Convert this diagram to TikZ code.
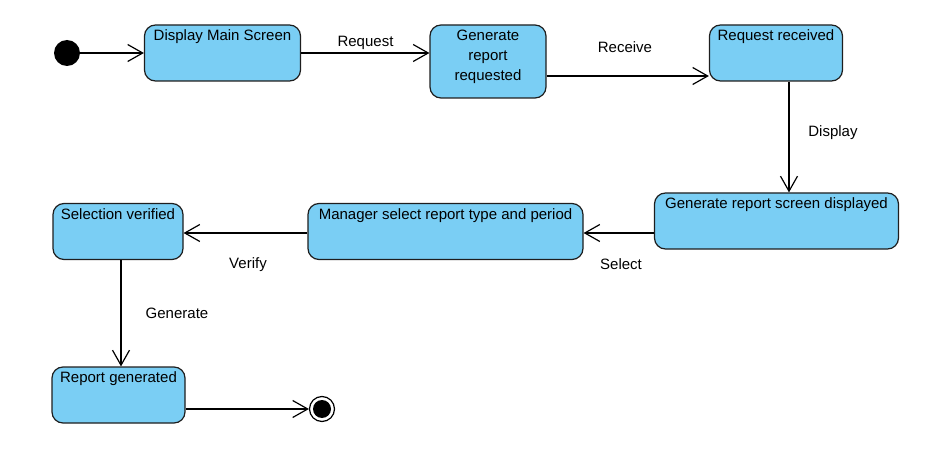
\documentclass[tikz,border=0pt]{standalone}
\usepackage{fontspec}
\setmainfont{Liberation Sans}
\usetikzlibrary{arrows.meta}
\definecolor{stfill}{HTML}{7ACEF4}
\definecolor{stline}{HTML}{1E1E1E}
\tikzset{
  statebox/.style={draw=stline, fill=stfill, line width=1.2pt, rounded corners=11pt, inner sep=0pt},
  boxtext/.style={inner sep=0pt, anchor=north, align=center, font=\fontsize{15}{20}\selectfont},
  lbl/.style={inner sep=0pt, font=\fontsize{15}{18}\selectfont},
  arr/.style={draw=black, line width=1.2pt, -{Straight Barb[length=15pt,width=17pt,line width=1.2pt]}},
}
\begin{document}
\begin{tikzpicture}[x=1pt,y=-1pt]
\useasboundingbox (0,0) rectangle (946,476);
% initial and final
\node[circle, fill=black, minimum size=26pt, inner sep=0pt] (init) at (67,53) {};
\node[circle, draw=black, line width=1.2pt, fill=white, minimum size=25pt, inner sep=0pt] (fin) at (322,409) {};
\node[circle, fill=black, minimum size=18pt, inner sep=0pt] (fincore) at (fin.center) {};
% states
\node[statebox, minimum width=156pt, minimum height=56pt] (a) at (222.5,53) {};
\node[boxtext] (at) at ([yshift=-5.5pt]a.north) {Display Main Screen};
\node[statebox, minimum width=116pt, minimum height=73pt] (b) at (488,61.5) {};
\node[boxtext] (bt) at ([yshift=-5.5pt]b.north) {Generate\\report\\requested};
\node[statebox, minimum width=133pt, minimum height=56pt] (c) at (776,53) {};
\node[boxtext] (ct) at ([yshift=-5.5pt]c.north) {Request received};
\node[statebox, minimum width=244pt, minimum height=56pt] (d) at (776.5,221) {};
\node[boxtext] (dt) at ([yshift=-5.5pt]d.north) {Generate report screen displayed};
\node[statebox, minimum width=275pt, minimum height=56pt] (e) at (445.5,231.5) {};
\node[boxtext] (et) at ([yshift=-5.5pt]e.north) {Manager select report type and period};
\node[statebox, minimum width=130pt, minimum height=56pt] (f) at (118,231.5) {};
\node[boxtext] (ft) at ([yshift=-5.5pt]f.north) {Selection verified};
\node[statebox, minimum width=133pt, minimum height=56pt] (g) at (118.5,395) {};
\node[boxtext] (gt) at ([yshift=-5.5pt]g.north) {Report generated};
% transitions
\draw[arr] (init.east) -- (init.east -| a.west);
\draw[arr] (a.east) -- (a.east -| b.west);
\draw[arr] ([yshift=-14.5pt]b.east) coordinate (bx) -- (bx -| c.west);
\draw[arr] ([xshift=13pt]c.south) coordinate (cx) -- (cx |- d.north);
\draw[arr] ([yshift=-12pt]d.west) coordinate (dx) -- (dx -| e.east);
\draw[arr] (e.west |- dx) -- (dx -| f.east);
\draw[arr] ([xshift=3pt]f.south) coordinate (fx) -- (fx |- g.north);
\draw[arr] (g.east |- fin.center) -- (fin.west);
% labels
\node[lbl] (l1) at (365.5,43) {Request};
\node[lbl] (l2) at (625,47) {Receive};
\node[lbl] (l3) at (833,133) {Display};
\node[lbl] (l4) at (621,264) {Select};
\node[lbl] (l5) at (248,265) {Verify};
\node[lbl] (l6) at (177,313) {Generate};
\end{tikzpicture}
\end{document}
